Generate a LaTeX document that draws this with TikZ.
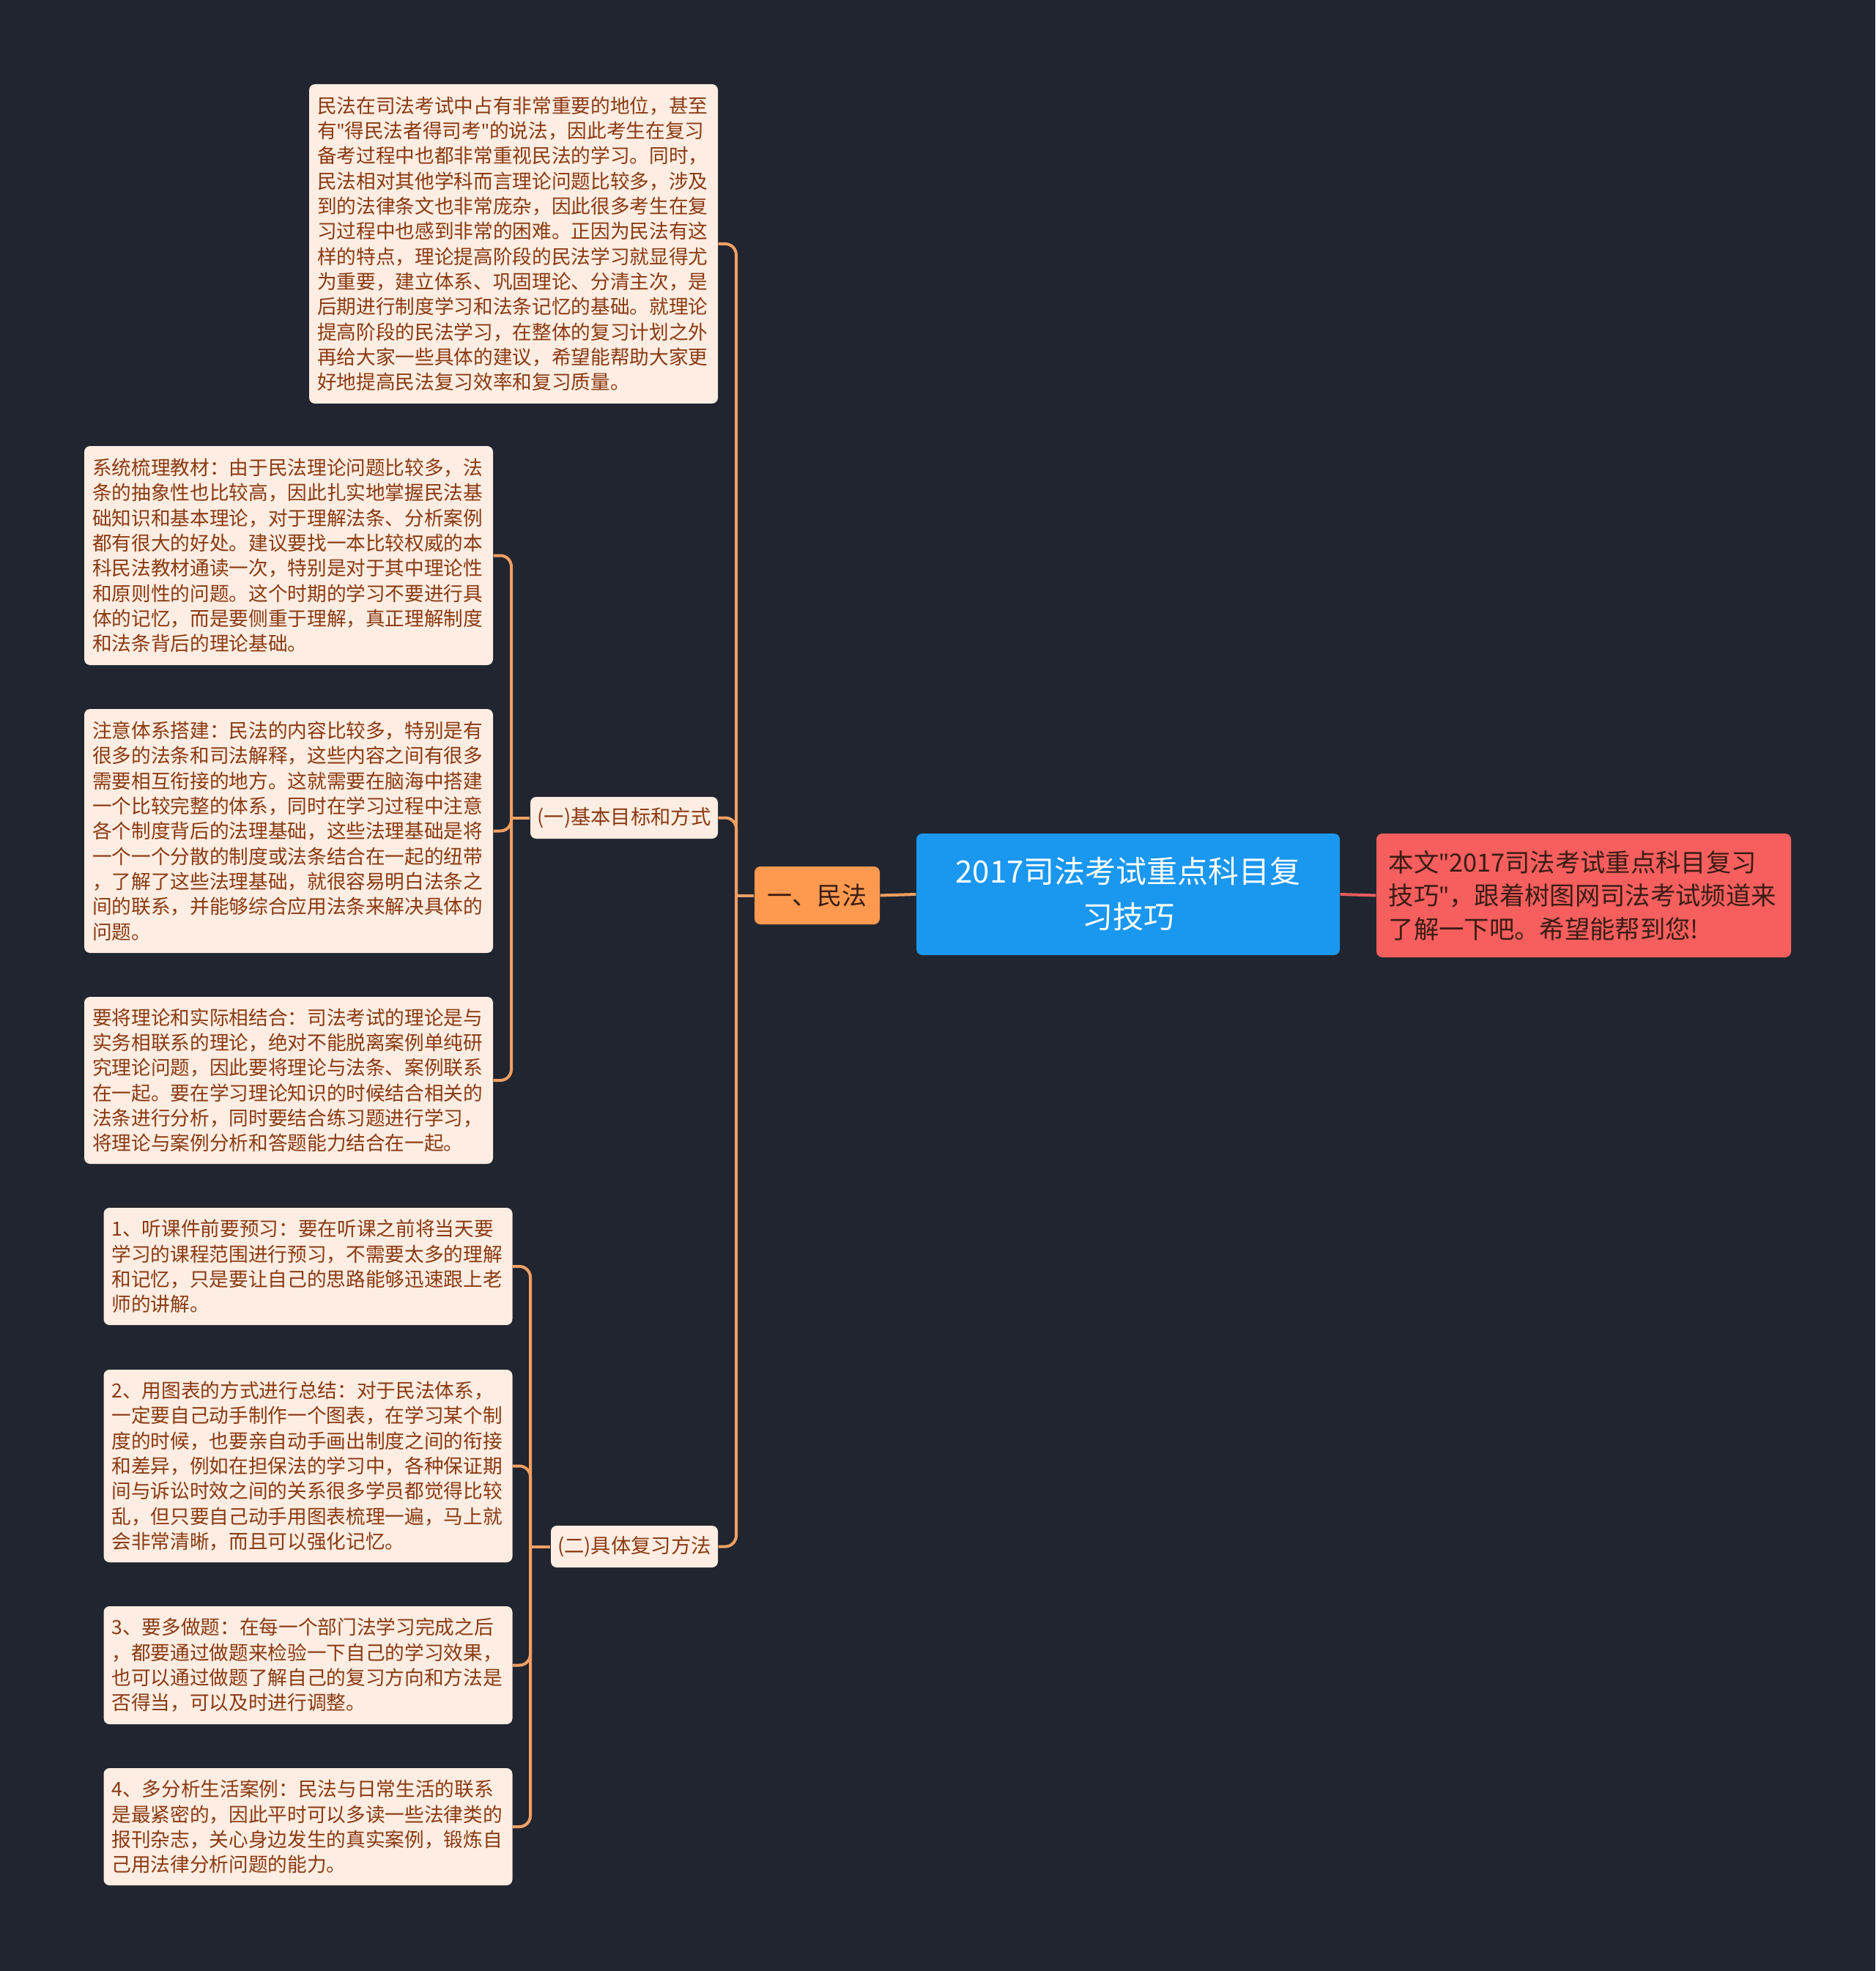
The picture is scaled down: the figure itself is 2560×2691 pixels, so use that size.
\documentclass[tikz,border=0pt]{standalone}
\usepackage{fontspec}
\setmainfont{Noto Sans CJK SC}
\newfontfamily\latinf{Noto Sans}
\newcommand\dq{{\latinf\symbol{34}}}
\definecolor{bgc}{HTML}{21252F}
\definecolor{leafbg}{HTML}{FDEDE2}
\definecolor{leaftx}{HTML}{8A3A12}
\definecolor{connc}{HTML}{F2A064}
\definecolor{redc}{HTML}{E35D5D}
\definecolor{bluebg}{HTML}{1A97EF}
\definecolor{orangebg}{HTML}{FE9A50}
\definecolor{redbg}{HTML}{F65F5E}
\definecolor{darktx}{HTML}{3A1C14}
\tikzset{
  leaf/.style={fill=leafbg, text=leaftx, rounded corners=2.4pt, align=left,
    font=\fontsize{8pt}{10.3pt}\selectfont, text width=160.8pt, inner xsep=3.3pt,
    inner ysep=0pt},
  sublabel/.style={fill=leafbg, text=leaftx, rounded corners=2.4pt, align=center,
    font=\fontsize{8.2pt}{10pt}\selectfont, inner sep=0pt, minimum height=17.1pt},
  conn/.style={draw=connc, line width=1.2pt, rounded corners=4.5pt},
}
\begin{document}
\begin{tikzpicture}[x=0.3pt, y=-0.3pt]
\fill[bgc] (0,0) rectangle (2560,2691);
\useasboundingbox (0,0) rectangle (2560,2691);

% central and first-level nodes
\node[fill=bluebg, text=white, rounded corners=2.4pt, align=center,
  font=\fontsize{12.6pt}{18.6pt}\selectfont, inner sep=0pt,
  minimum width=173.4pt, minimum height=49.8pt] (root) at (1540,1221)
  {2017司法考试重点科目复\\习技巧};
\node[fill=redbg, text=darktx, rounded corners=2.4pt, align=left,
  font=\fontsize{10.3pt}{13.65pt}\selectfont, inner xsep=5pt, inner ysep=0pt,
  text width=159.8pt, minimum height=50.7pt] (note) at (2162,1222.5)
  {本文\dq 2017司法考试重点科目复习\\技巧\dq ，跟着树图网司法考试频道来\\了解一下吧。希望能帮到您!};
\node[fill=orangebg, text=darktx, rounded corners=2.4pt, align=center,
  font=\fontsize{10.2pt}{12pt}\selectfont, inner sep=0pt,
  minimum width=51.3pt, minimum height=23.7pt] (minfa) at (1115.5,1222.5) {一、民法};

% second level
\node[leaf, minimum height=130.8pt] (intro) at (701,333)
  {民法在司法考试中占有非常重要的地位，甚至\\
有\dq 得民法者得司考\dq 的说法，因此考生在复习\\
备考过程中也都非常重视民法的学习。同时，\\
民法相对其他学科而言理论问题比较多，涉及\\
到的法律条文也非常庞杂，因此很多考生在复\\
习过程中也感到非常的困难。正因为民法有这\\
样的特点，理论提高阶段的民法学习就显得尤\\
为重要，建立体系、巩固理论、分清主次，是\\
后期进行制度学习和法条记忆的基础。就理论\\
提高阶段的民法学习，在整体的复习计划之外\\
再给大家一些具体的建议，希望能帮助大家更\\
好地提高民法复习效率和复习质量。};
\node[sublabel, minimum width=76.8pt] (labA) at (852,1116.5) {(一)基本目标和方式};
\node[sublabel, minimum width=68.4pt] (labB) at (866,2111.5) {(二)具体复习方法};

% leaves of A
\node[leaf, minimum height=89.7pt] (a1) at (394,758.5)
  {系统梳理教材：由于民法理论问题比较多，法\\
条的抽象性也比较高，因此扎实地掌握民法基\\
础知识和基本理论，对于理解法条、分析案例\\
都有很大的好处。建议要找一本比较权威的本\\
科民法教材通读一次，特别是对于其中理论性\\
和原则性的问题。这个时期的学习不要进行具\\
体的记忆，而是要侧重于理解，真正理解制度\\
和法条背后的理论基础。};
\node[leaf, minimum height=99.9pt] (a2) at (394,1134.5)
  {注意体系搭建：民法的内容比较多，特别是有\\
很多的法条和司法解释，这些内容之间有很多\\
需要相互衔接的地方。这就需要在脑海中搭建\\
一个比较完整的体系，同时在学习过程中注意\\
各个制度背后的法理基础，这些法理基础是将\\
一个一个分散的制度或法条结合在一起的纽带\\
，了解了这些法理基础，就很容易明白法条之\\
间的联系，并能够综合应用法条来解决具体的\\
问题。};
\node[leaf, minimum height=68.4pt] (a3) at (394,1475)
  {要将理论和实际相结合：司法考试的理论是与\\
实务相联系的理论，绝对不能脱离案例单纯研\\
究理论问题，因此要将理论与法条、案例联系\\
在一起。要在学习理论知识的时候结合相关的\\
法条进行分析，同时要结合练习题进行学习，\\
将理论与案例分析和答题能力结合在一起。};

% leaves of B
\node[leaf, minimum height=48pt] (b1) at (420.5,1729)
  {1、听课件前要预习：要在听课之前将当天要\\
学习的课程范围进行预习，不需要太多的理解\\
和记忆，只是要让自己的思路能够迅速跟上老\\
师的讲解。};
\node[leaf, minimum height=78.9pt] (b2) at (420.5,2001.5)
  {2、用图表的方式进行总结：对于民法体系，\\
一定要自己动手制作一个图表，在学习某个制\\
度的时候，也要亲自动手画出制度之间的衔接\\
和差异，例如在担保法的学习中，各种保证期\\
间与诉讼时效之间的关系很多学员都觉得比较\\
乱，但只要自己动手用图表梳理一遍，马上就\\
会非常清晰，而且可以强化记忆。};
\node[leaf, minimum height=48.3pt] (b3) at (420.5,2273.5)
  {3、要多做题：在每一个部门法学习完成之后\\
，都要通过做题来检验一下自己的学习效果，\\
也可以通过做题了解自己的复习方向和方法是\\
否得当，可以及时进行调整。};
\node[leaf, minimum height=48pt] (b4) at (420.5,2494)
  {4、多分析生活案例：民法与日常生活的联系\\
是最紧密的，因此平时可以多读一些法律类的\\
报刊杂志，关心身边发生的真实案例，锻炼自\\
己用法律分析问题的能力。};

% junction points
\coordinate (jM) at (1005,1222.5);
\coordinate (jA) at (698,1116.5);
\coordinate (jB) at (724,2111.5);

% connectors
\draw[draw=redc, line width=1.2pt] (root.east) -- (note.west);
\draw[conn] (root.west) -- (minfa.east);
\draw[conn] (minfa.west) -- (jM);
\draw[conn] (intro.east) -| (jM);
\draw[conn] (labA.east) -| (jM);
\draw[conn] (labB.east) -| (jM);

\draw[conn] (labA.west) -- (jA);
\draw[conn] (a1.east) -| (jA);
\draw[conn] (a2.east) -| (jA);
\draw[conn] (a3.east) -| (jA);

\draw[conn] (labB.west) -- (jB);
\draw[conn] (b1.east) -| (jB);
\draw[conn] (b2.east) -| (jB);
\draw[conn] (b3.east) -| (jB);
\draw[conn] (b4.east) -| (jB);
\end{tikzpicture}
\end{document}
